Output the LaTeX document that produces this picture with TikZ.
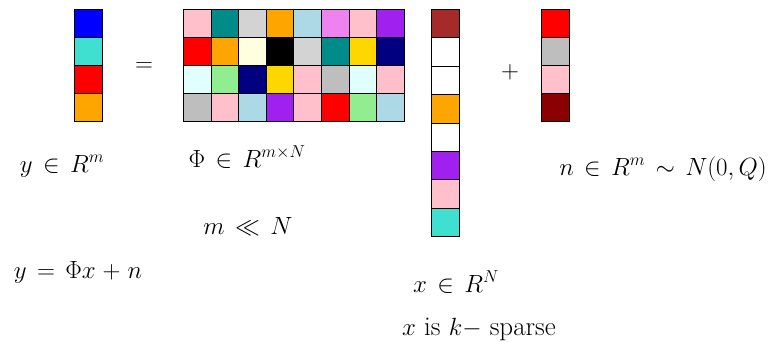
\documentclass[tikz,border=0pt]{standalone}
\usepackage{amssymb}
\definecolor{turq}{RGB}{64,224,208}
\definecolor{orng}{RGB}{255,165,0}
\definecolor{pnk}{RGB}{255,192,203}
\definecolor{dcyan}{RGB}{0,139,139}
\definecolor{lgray}{RGB}{211,211,211}
\definecolor{lblue}{RGB}{173,216,230}
\definecolor{viol}{RGB}{238,130,238}
\definecolor{purp}{RGB}{160,32,240}
\definecolor{lyel}{RGB}{255,255,224}
\definecolor{gld}{RGB}{255,215,0}
\definecolor{nvy}{RGB}{0,0,128}
\definecolor{lcyan}{RGB}{224,255,255}
\definecolor{lgreen}{RGB}{144,238,144}
\definecolor{gry}{RGB}{190,190,190}
\definecolor{brwn}{RGB}{165,42,42}
\definecolor{dred}{RGB}{139,0,0}
\thickmuskip=7.5mu plus 5mu
\medmuskip=5mu plus 2mu minus 4mu
\begin{document}
\begin{tikzpicture}[x=1pt,y=-1pt,
  cell/.style={draw=black,line width=0.7pt,minimum width=27.6pt,minimum height=28pt,inner sep=0pt,anchor=north west},
  lbl/.style={font=\fontsize{27}{32}\selectfont,anchor=base,inner sep=0pt},
  sym/.style={font=\fontsize{28}{33}\selectfont,inner sep=0pt}]
\useasboundingbox (0,0) rectangle (775,342);

% measurement vector y
\foreach \c [count=\i from 0] in {blue,turq,red,orng}
  \node[cell,fill=\c] (y\i) at (74,{9+28*\i}) {};

\node[sym] (eq) at (144,67) {$=$};

% sensing matrix
\foreach \row [count=\r from 0] in {%
  {pnk,dcyan,lgray,orng,lblue,viol,pnk,purp},
  {red,orng,lyel,black,lgray,dcyan,gld,nvy},
  {lcyan,lgreen,nvy,gld,pnk,gry,lcyan,pnk},
  {gry,pnk,lblue,purp,pnk,red,lgreen,lblue}}
  \foreach \c [count=\k from 0] in \row
    \node[cell,fill=\c] (phi\r\k) at ({183+27.6*\k},{9+28*\r}) {};

% sparse vector x
\foreach \c [count=\i from 0] in {brwn,white,white,orng,white,purp,pnk,turq}
  \node[cell,fill=\c,minimum height=28.4pt] (x\i) at (431,{9+28.4*\i}) {};

\node[sym] (plus) at (510,72) {$+$};

% noise vector n
\foreach \c [count=\i from 0] in {red,gry,pnk,dred}
  \node[cell,fill=\c] (n\i) at (541,{9+28*\i}) {};

% labels
\node[lbl] (ylbl) at (62,172) {$y \in R^m$};
\node[lbl] (philbl) at (247,167) {$\Phi \in R^{m\times N}$};
\node[lbl] (mn) at (248,234) {$m \ll N$};
\node[lbl] (model) at (78,278) {$y = \Phi x + n$};
\node[lbl] (xlbl) at (456,292) {$x \in R^N$};
\node[lbl] (sparse) at (479,335) {$x$ is $k-$ sparse};
\node[lbl] (nlbl) at (663,175) {$n \in R^m \sim N(0,Q)$};
\end{tikzpicture}
\end{document}
